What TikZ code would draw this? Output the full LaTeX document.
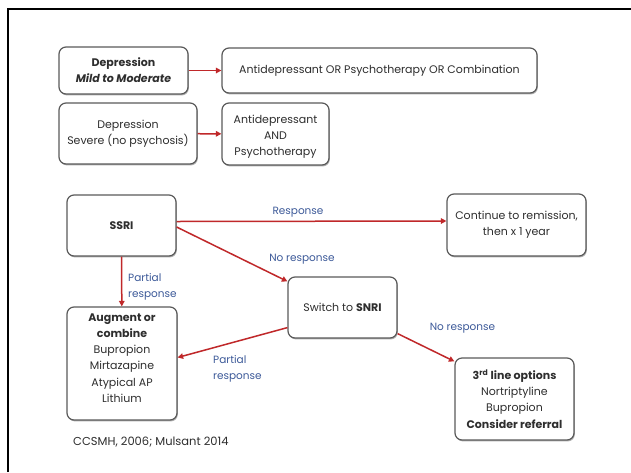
\documentclass[tikz,border=0pt]{standalone}
\usepackage{fontspec}
\setmainfont{Poppins}
\usetikzlibrary{shadows,arrows.meta}
\definecolor{txt}{HTML}{2E2E2E}
\definecolor{lbl}{HTML}{3D5A99}
\definecolor{arr}{HTML}{C0282A}
\definecolor{bord}{HTML}{5A5A5A}
\tikzset{
  box/.style={draw=bord, line width=1.2pt, rounded corners=7pt, fill=white,
    drop shadow={shadow xshift=0.8pt, shadow yshift=-1.4pt, fill=black!45, opacity=0.7},
    align=center, text=txt, font=\fontsize{11}{16.2}\selectfont, inner sep=1pt},
  conn/.style={draw=arr, line width=1.5pt, -{Triangle[length=5.5pt,width=5.5pt]}},
  lab/.style={text=lbl, font=\fontsize{10.5}{16}\selectfont, inner sep=0pt}
}
\begin{document}
\begin{tikzpicture}[x=1pt,y=-1pt]
\useasboundingbox (0,0) rectangle (631,472);
\fill[white] (0,0) rectangle (631,472);
\draw[line width=2.4pt, black] (8,472) -- (8,9) -- (631,9);

\node[box, minimum width=129pt, minimum height=47pt] (b1) at (123.5,70.5) {\bfseries Depression\\\bfseries\itshape Mild to Moderate};
\node[box, minimum width=315pt, minimum height=45pt] (b2) at (379.5,70.5) {Antidepressant OR Psychotherapy OR Combination};
\node[box, minimum width=138pt, minimum height=61pt] (b3) at (128,133.5) {Depression\\Severe (no psychosis)};
\node[box, minimum width=107pt, minimum height=62pt] (b4) at (275.5,134) {\rule{0pt}{14pt}Antidepressant\\AND\\Psychotherapy};

\node[box, minimum width=109pt, minimum height=61pt] (ssri) at (121.5,225.5) {\bfseries SSRI};
\node[box, minimum width=139pt, minimum height=62pt] (cont) at (516.5,225) {Continue to remission,\\then x 1 year};
\node[box, minimum width=110pt, minimum height=113pt, text depth=11pt] (aug) at (122,363.5) {\bfseries Augment or\\\bfseries combine\\Bupropion\\Mirtazapine\\Atypical AP\\Lithium};
\node[box, minimum width=109pt, minimum height=61pt] (sw) at (342.5,307.5) {Switch to \textbf{SNRI}};
\node[box, minimum width=119pt, minimum height=82pt] (third) at (514.5,399) {\textbf{3\textsuperscript{rd} line options}\\Nortriptyline\\Bupropion\\\textbf{Consider referral}};

\draw[conn] (b1) -- (b2);
\draw[conn] (b3) -- (b4);
\draw[conn] ([yshift=4pt]ssri.east) -- ([yshift=4pt]cont.west);
\draw[conn] ([yshift=-1.5pt]ssri.east) -- ([yshift=-5pt]sw.north west);
\draw[conn] (ssri) -- (aug);
\draw[conn] ([yshift=11pt]sw.south west) -- ([yshift=6pt]aug.east);
\draw[conn] ([yshift=5pt]sw.south east) -- ([yshift=-4pt]third.north west);

\node[lab] (l1) at (298,212) {Response};
\node[lab] (l2) at (302,259) {No response};
\node[lab, anchor=west, align=left] (l3) at (128,286.5) {Partial\\response};
\node[lab, anchor=west, align=left] (l4) at (213,368.5) {Partial\\response};
\node[lab] (l5) at (462.5,328) {No response};
\node[anchor=west, text=txt, font=\fontsize{11.5}{12}\selectfont, inner sep=0pt] (cite) at (73,442) {CCSMH, 2006; Mulsant 2014};
\end{tikzpicture}
\end{document}
